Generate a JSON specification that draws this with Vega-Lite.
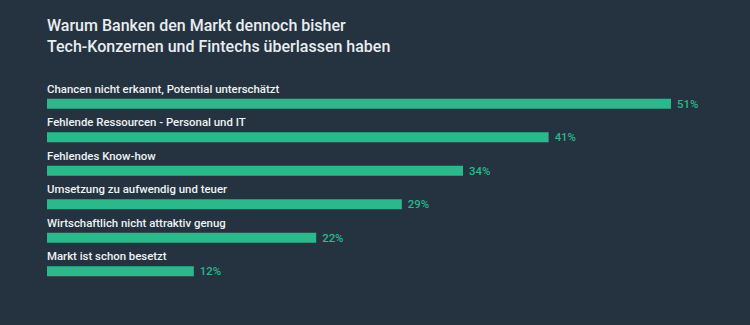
{
  "$schema": "https://vega.github.io/schema/vega-lite/v6.json",
  "width": 624,
  "height": 201,
  "autosize": "none",
  "padding": {"left": 47, "top": 87, "right": 79, "bottom": 37},
  "background": "#253340",
  "title": {
    "text": ["Warum Banken den Markt dennoch bisher", "Tech-Konzernen und Fintechs überlassen haben"],
    "anchor": "start",
    "frame": "group",
    "offset": 29,
    "font": "Roboto",
    "fontSize": 16,
    "fontWeight": 500,
    "color": "#e9edf0",
    "lineHeight": 21
  },
  "config": {"view": {"stroke": null}},
  "data": {
    "values": [
      {"label": "Chancen nicht erkannt, Potential unterschätzt", "value": 51, "pct": "51%"},
      {"label": "Fehlende Ressourcen - Personal und IT", "value": 41, "pct": "41%"},
      {"label": "Fehlendes Know-how", "value": 34, "pct": "34%"},
      {"label": "Umsetzung zu aufwendig und teuer", "value": 29, "pct": "29%"},
      {"label": "Wirtschaftlich nicht attraktiv genug", "value": 22, "pct": "22%"},
      {"label": "Markt ist schon besetzt", "value": 12, "pct": "12%"}
    ]
  },
  "encoding": {
    "y": {"field": "label", "type": "nominal", "sort": null, "axis": null, "scale": {"paddingInner": 0, "paddingOuter": 0}}
  },
  "layer": [
    {
      "mark": {"type": "bar", "size": 10, "color": "#2bb88a"},
      "encoding": {
        "x": {"field": "value", "type": "quantitative", "axis": null, "scale": {"domain": [0, 51], "nice": false}}
      }
    },
    {
      "mark": {"type": "text", "align": "left", "baseline": "middle", "dy": -14, "font": "Roboto", "fontSize": 11.4, "fontWeight": 500, "color": "#eef1f3"},
      "encoding": {
        "x": {"datum": 0, "type": "quantitative"},
        "text": {"field": "label"}
      }
    },
    {
      "mark": {"type": "text", "align": "left", "baseline": "middle", "dx": 6, "dy": 1, "font": "Roboto", "fontSize": 11.4, "fontWeight": 500, "color": "#2bb88a"},
      "encoding": {
        "x": {"field": "value", "type": "quantitative"},
        "text": {"field": "pct"}
      }
    }
  ]
}
